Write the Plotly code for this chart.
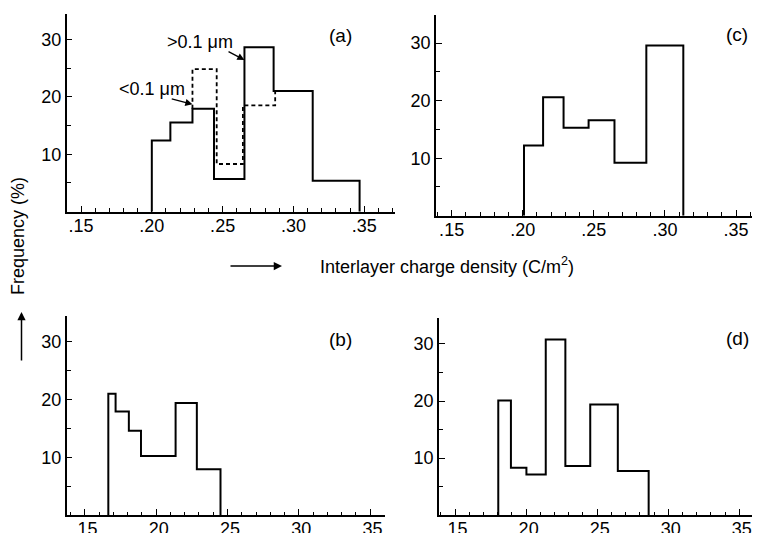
import plotly.graph_objects as go

# Interlayer charge density histograms (C/m^2) and frequencies (%)
edges_a = [0.2000, 0.2131, 0.2287, 0.2439, 0.2654, 0.2860, 0.3136, 0.3467]
freq_a = [12.4, 15.5, 17.9, 5.7, 28.6, 21.0, 5.4]

# grains < 0.1 um in panel (a), drawn dashed where it differs from the solid one
edges_a_small = [0.2287, 0.2458, 0.2643, 0.2871]
freq_a_small = [24.8, 8.3, 18.5]

edges_b = [0.1664, 0.1715, 0.1808, 0.1893, 0.2136, 0.2285, 0.2451]
freq_b = [21.0, 17.9, 14.6, 10.2, 19.4, 7.9]

edges_c = [0.2009, 0.2143, 0.2287, 0.2463, 0.2645, 0.2869, 0.3129]
freq_c = [12.2, 20.6, 15.3, 16.6, 9.2, 29.6]

edges_d = [0.1804, 0.1893, 0.2002, 0.2138, 0.2276, 0.2451, 0.2645, 0.2862]
freq_d = [20.1, 8.3, 7.1, 30.8, 8.6, 19.4, 7.7]

x_tickvals = [0.15, 0.20, 0.25, 0.30, 0.35]
x_ticktext = [".15", ".20", ".25", ".30", ".35"]
y_tickvals = [10, 20, 30]
y_ticktext = ["10", "20", "30"]

W, H = 758, 533
FONT = "Liberation Sans, Arial, Helvetica, sans-serif"


def step_outline(edges, heights, start=0.0, end=0.0):
    xs, ys = [edges[0]], [start]
    for i, h in enumerate(heights):
        xs += [edges[i], edges[i + 1]]
        ys += [h, h]
    xs.append(edges[-1])
    ys.append(end)
    return xs, ys


def px_dom_x(a, b):
    return [a / W, b / W]


def px_dom_y(top, bottom):
    return [1 - bottom / H, 1 - top / H]


fig = go.Figure()

solid = dict(color="black", width=2)

xa, ya = step_outline(edges_a, freq_a)
fig.add_trace(go.Scatter(x=xa, y=ya, mode="lines", line=solid, xaxis="x", yaxis="y"))
xs, ys = step_outline(edges_a_small, freq_a_small, start=freq_a[2], end=freq_a[5])
fig.add_trace(go.Scatter(x=xs, y=ys, mode="lines",
                         line=dict(color="black", width=1.8, dash="4px,3px"),
                         xaxis="x", yaxis="y"))

xc, yc = step_outline(edges_c, freq_c)
fig.add_trace(go.Scatter(x=xc, y=yc, mode="lines", line=solid, xaxis="x2", yaxis="y2"))

xb, yb = step_outline(edges_b, freq_b)
fig.add_trace(go.Scatter(x=xb, y=yb, mode="lines", line=solid, xaxis="x3", yaxis="y3"))

xd, yd = step_outline(edges_d, freq_d)
fig.add_trace(go.Scatter(x=xd, y=yd, mode="lines", line=solid, xaxis="x4", yaxis="y4"))


def xaxis_style(rng, dom, anchor):
    return dict(
        range=rng, domain=dom, anchor=anchor, automargin=False,
        showline=True, linecolor="black", linewidth=1.5,
        showgrid=False, zeroline=False,
        tickmode="array", tickvals=x_tickvals, ticktext=x_ticktext,
        ticks="inside", ticklen=6, tickwidth=1.3, tickcolor="black",
        ticklabelstandoff=-3,
        minor=dict(tickmode="linear", tick0=0.15, dtick=0.01, ticks="inside",
                   ticklen=3.5, tickwidth=1.3, tickcolor="black", showgrid=False),
        tickfont=dict(family=FONT, size=18, color="black"),
        fixedrange=True,
    )


def yaxis_style(rng, dom, anchor):
    return dict(
        range=rng, domain=dom, anchor=anchor, automargin=False,
        showline=True, linecolor="black", linewidth=1.5,
        showgrid=False, zeroline=False,
        tickmode="array", tickvals=y_tickvals, ticktext=y_ticktext,
        ticks="inside", ticklen=6, tickwidth=1.3, tickcolor="black",
        minor=dict(tickmode="linear", tick0=5, dtick=10, ticks="inside",
                   ticklen=4.5, tickwidth=1.3, tickcolor="black", showgrid=False),
        tickfont=dict(family=FONT, size=18, color="black"),
        fixedrange=True,
    )


fig.update_layout(
    width=W, height=H,
    margin=dict(l=0, r=0, t=0, b=0, autoexpand=False),
    paper_bgcolor="white", plot_bgcolor="white",
    showlegend=False,
    font=dict(family=FONT, size=18, color="black"),
    xaxis=xaxis_style([0.1399, 0.3717], px_dom_x(66.7, 395), "y"),
    yaxis=yaxis_style([0, 34.4], px_dom_y(14, 211.7), "x"),
    xaxis2=xaxis_style([0.1390, 0.3612], px_dom_x(436, 752), "y2"),
    yaxis2=yaxis_style([0, 34.9], px_dom_y(15, 215.7), "x2"),
    xaxis3=xaxis_style([0.1372, 0.3605], px_dom_x(66.7, 385), "y3"),
    yaxis3=yaxis_style([0, 34.45], px_dom_y(316, 515), "x3"),
    xaxis4=xaxis_style([0.1387, 0.3589], px_dom_x(439, 752), "y4"),
    yaxis4=yaxis_style([0, 34.56], px_dom_y(318, 515), "x4"),
)

ann = []
# panel letters
for label, (cx, cy) in {"(a)": (340, 35.5), "(c)": (737, 35),
                        "(b)": (340, 339.5), "(d)": (737, 338.5)}.items():
    ann.append(dict(text=label, xref="paper", yref="paper", x=cx / W, y=1 - cy / H,
                    xanchor="center", yanchor="middle", showarrow=False,
                    font=dict(family=FONT, size=19, color="black")))

# size-class labels with arrows in panel (a)
ann.append(dict(text=">0.1 \u03bcm", xref="x", yref="y", x=0.2342, y=29.6,
                xanchor="center", yanchor="middle", showarrow=False,
                font=dict(family=FONT, size=18, color="black")))
ann.append(dict(text="", xref="x", yref="y", x=edges_a[4], y=26.4,
                axref="x", ayref="y", ax=0.2531, ay=28.0,
                showarrow=True, arrowhead=2, arrowsize=1.1, arrowwidth=1.3,
                arrowcolor="black"))
ann.append(dict(text="<0.1 \u03bcm", xref="x", yref="y", x=0.2003, y=21.3,
                xanchor="center", yanchor="middle", showarrow=False,
                font=dict(family=FONT, size=18, color="black")))
ann.append(dict(text="", xref="x", yref="y", x=edges_a_small[0], y=18.7,
                axref="x", ayref="y", ax=0.2130, ay=19.7,
                showarrow=True, arrowhead=2, arrowsize=1.1, arrowwidth=1.3,
                arrowcolor="black"))

# shared axis titles
ann.append(dict(text="Interlayer charge density (C/m<sup>2</sup>)", xref="paper", yref="paper",
                x=447 / W, y=1 - 265 / H, xanchor="center", yanchor="middle",
                showarrow=False, font=dict(family=FONT, size=18, color="black")))
ann.append(dict(text="", xref="paper", yref="paper", x=282 / W, y=1 - 266 / H,
                axref="pixel", ayref="pixel", ax=-53, ay=0,
                showarrow=True, arrowhead=2, arrowsize=1.1, arrowwidth=1.5,
                arrowcolor="black"))
ann.append(dict(text="Frequency (%)", xref="paper", yref="paper",
                x=18 / W, y=1 - 236 / H, xanchor="center", yanchor="middle",
                textangle=-90, showarrow=False,
                font=dict(family=FONT, size=18, color="black")))
ann.append(dict(text="", xref="paper", yref="paper", x=21.5 / W, y=1 - 312 / H,
                axref="pixel", ayref="pixel", ax=0, ay=50,
                showarrow=True, arrowhead=2, arrowsize=1.1, arrowwidth=1.5,
                arrowcolor="black"))

fig.update_layout(annotations=ann)

fig.write_html("out.html")
